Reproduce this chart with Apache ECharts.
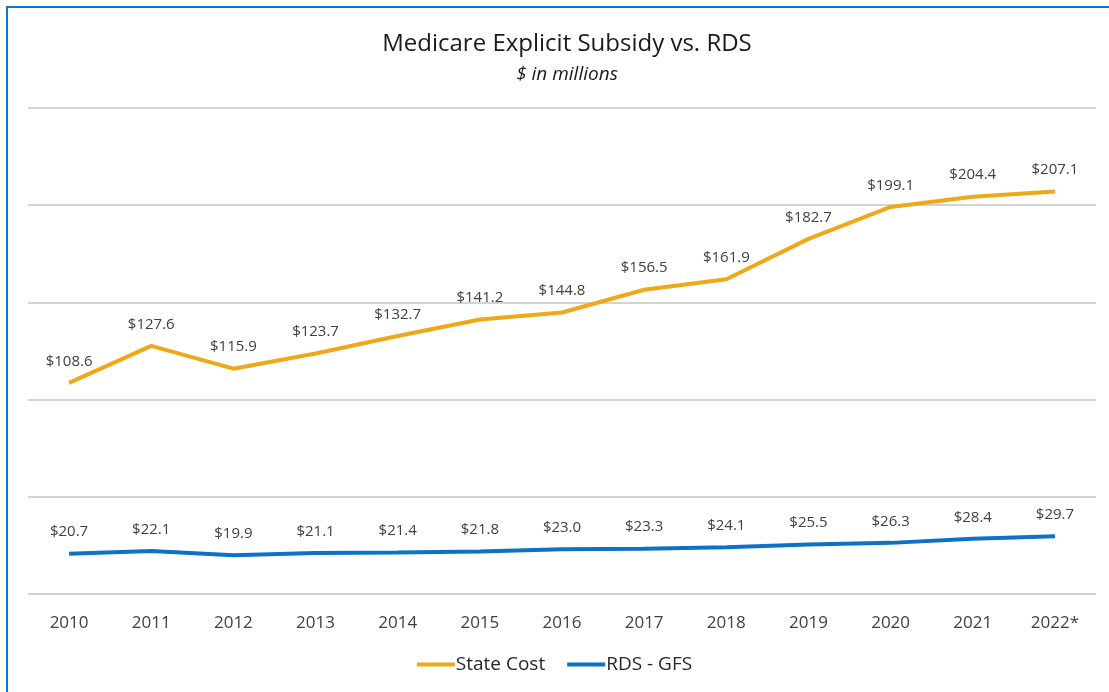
<!DOCTYPE html>
<html>
<head>
<meta charset="utf-8">
<script src="https://cdn.jsdelivr.net/npm/echarts@6/dist/echarts.min.js"></script>
<style>
  html, body { margin: 0; padding: 0; background: #fff; overflow: hidden; }
  #frame {
    position: absolute; left: 6px; top: 6px; width: 1300px; height: 900px;
    border-left: 2px solid #0b78d0; border-top: 2px solid #0b78d0;
  }
  #chart { position: absolute; left: 0; top: 0; width: 1109px; height: 692px; }
</style>
</head>
<body>
<div id="frame"></div>
<div id="chart"></div>
<script>
const years = ['2010', '2011', '2012', '2013', '2014', '2015', '2016', '2017', '2018', '2019', '2020', '2021', '2022*'];
const stateCost = [108.6, 127.6, 115.9, 123.7, 132.7, 141.2, 144.8, 156.5, 161.9, 182.7, 199.1, 204.4, 207.1];
const rdsGfs = [20.7, 22.1, 19.9, 21.1, 21.4, 21.8, 23.0, 23.3, 24.1, 25.5, 26.3, 28.4, 29.7];

const FONT = 'Open Sans';
const chart = echarts.init(document.getElementById('chart'));

// data labels above every point, "$x.x"
const label = {
  show: true,
  position: 'top',
  distance: 14,
  fontFamily: FONT,
  fontSize: 15,
  color: '#404040',
  formatter: p => '$' + p.value.toFixed(1)
};

chart.setOption({
  animation: false,
  title: {
    text: 'Medicare Explicit Subsidy vs. RDS',
    subtext: '$ in millions',
    left: 562,
    textAlign: 'center',
    top: 27,
    itemGap: 9,
    textStyle: { fontFamily: FONT, fontSize: 24, fontWeight: 'normal', color: '#1a1a1a' },
    subtextStyle: { fontFamily: FONT, fontSize: 19, fontStyle: 'italic', color: '#1a1a1a' }
  },
  legend: {
    bottom: 13,
    left: 'center',
    icon: 'rect',
    itemWidth: 38,
    itemHeight: 4,
    itemGap: 22,
    textStyle: { fontFamily: FONT, fontSize: 19, color: '#262626', padding: [0, 0, 0, -4] },
    data: ['State Cost', 'RDS - GFS']
  },
  grid: { left: 28, right: 13, top: 108, bottom: 98, containLabel: false },
  xAxis: {
    type: 'category',
    data: years,
    boundaryGap: true,
    axisLine: { show: false },
    axisTick: { show: false },
    axisLabel: { fontFamily: FONT, fontSize: 17, color: '#404040', margin: 21 }
  },
  yAxis: {
    type: 'value',
    min: 0,
    max: 250,
    interval: 50,
    axisLabel: { show: false },
    axisLine: { show: false },
    axisTick: { show: false },
    splitLine: { lineStyle: { color: '#c4c4c4', width: 1.5 } }
  },
  series: [
    {
      name: 'State Cost',
      type: 'line',
      data: stateCost,
      symbol: 'circle',
      symbolSize: 0.1,
      showSymbol: true,
      lineStyle: { color: '#eea818', width: 4 },
      itemStyle: { color: '#eea818' },
      label
    },
    {
      name: 'RDS - GFS',
      type: 'line',
      data: rdsGfs,
      symbol: 'circle',
      symbolSize: 0.1,
      showSymbol: true,
      lineStyle: { color: '#0b72c6', width: 4 },
      itemStyle: { color: '#0b72c6' },
      label
    }
  ]
});
</script>
</body>
</html>
